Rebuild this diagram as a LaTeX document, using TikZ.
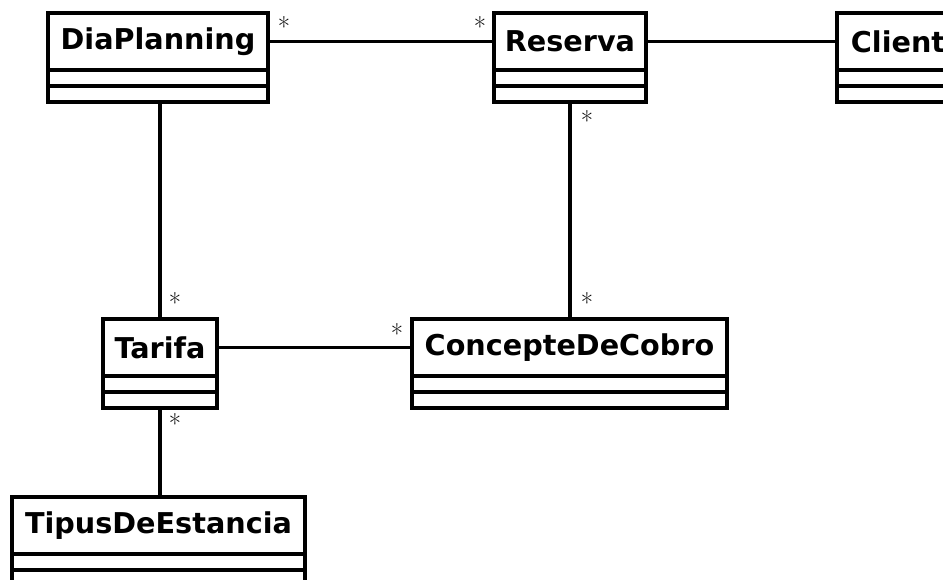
\documentclass[tikz,border=0pt]{standalone}
\usepackage{fontspec}
\newfontfamily\clsfont{DejaVu Sans}[BoldFont={DejaVu Sans Bold}]
\tikzset{
  namebox/.style={draw, line width=2.8pt, inner sep=0pt, outer sep=0pt, minimum height=42.75pt,
    font=\clsfont\bfseries\fontsize{21.5}{24}\selectfont},
  compbox/.style={draw, line width=2.8pt, inner sep=0pt, outer sep=0pt, minimum height=12pt},
  assoc/.style={line width=2.6pt},
  mult/.style={inner sep=0pt, font=\fontsize{20}{22}\selectfont}
}
\newcommand{\umlcls}[5]{%
  \node[namebox, minimum width=#4*0.75pt, anchor=north west] (#1) at (#2,#3) {#5};
  \node[compbox, minimum width=#4*0.75pt, anchor=north] (#1a) at (#1.south) {};
  \node[compbox, minimum width=#4*0.75pt, anchor=north] (#1b) at (#1a.south) {};
}
\begin{document}
\begin{tikzpicture}[x=0.75pt, y=-0.75pt]
\useasboundingbox (0,0) rectangle (943,580);
\clip (0,0) rectangle (943,580);
\fill[white] (0,0) rectangle (943,580);
\umlcls{dp}{48}{13}{220}{DiaPlanning}
\umlcls{res}{494}{13}{152}{Reserva}
\umlcls{cli}{837}{13}{122}{Client}
\umlcls{tar}{103}{319}{114}{Tarifa}
\umlcls{con}{412}{319}{315}{ConcepteDeCobro}
\umlcls{tip}{12}{497}{293}{TipusDeEstancia}
% associations
\draw[assoc] (dp.east) -- (res.west);
\draw[assoc] (res.east) -- (cli.west);
\draw[assoc] (tar.east) -- (con.west);
\draw[assoc] (dpb.south -| tar.north) -- (tar.north);
\draw[assoc] (resb.south) -- (resb.south |- con.north);
\draw[assoc] (tarb.south) -- (tarb.south |- tip.north);
% multiplicities
\node[mult] (m1) at (284,27) {*};
\node[mult] (m2) at (480,27) {*};
\node[mult] (m3) at (587,121) {*};
\node[mult] (m4) at (587,303) {*};
\node[mult] (m5) at (397,334) {*};
\node[mult] (m6) at (175,303) {*};
\node[mult] (m7) at (175,424) {*};
\end{tikzpicture}
\end{document}
